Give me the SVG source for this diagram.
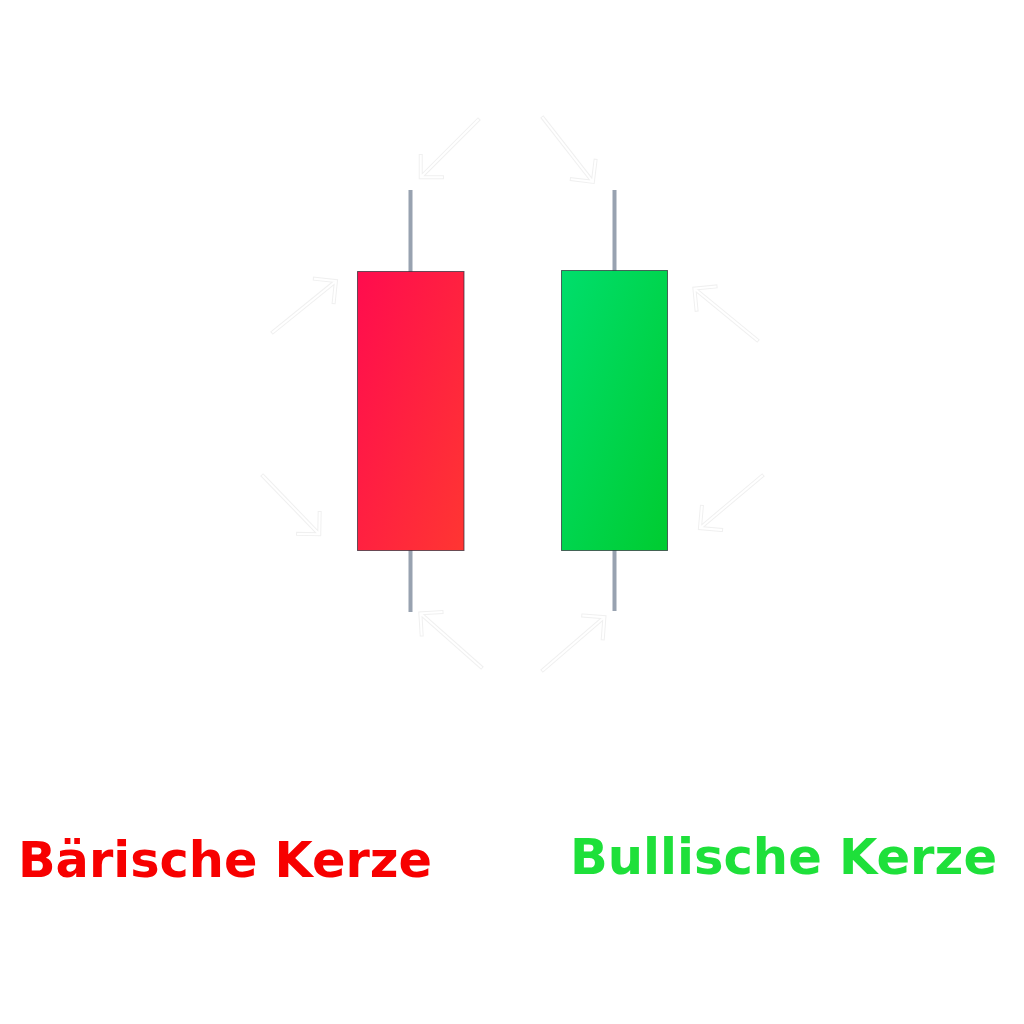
<svg xmlns="http://www.w3.org/2000/svg" xmlns:xlink="http://www.w3.org/1999/xlink" width="1024" height="1024" viewBox="0 0 1024 1024">
  <style>
    .wick { fill: #98a2b0; }
    .body { stroke: #2a2a35; stroke-width: 1; stroke-opacity: 0.7; }
    .arrO { fill: none; stroke: #f0f0f0; stroke-width: 4; stroke-linecap: square; }
    .arrI { fill: none; stroke: #ffffff; stroke-width: 2; stroke-linecap: square; }
    .lbl { font-family: "DejaVu Sans", "Liberation Sans", sans-serif; font-weight: bold; font-size: 50px; }
  </style>
  <defs>
    <linearGradient id="gRed" x1="0" y1="0" x2="1" y2="1">
      <stop offset="0" stop-color="#ff0c4e"/>
      <stop offset="1" stop-color="#ff3632"/>
    </linearGradient>
    <linearGradient id="gGreen" x1="0" y1="0" x2="1" y2="1">
      <stop offset="0" stop-color="#00de6c"/>
      <stop offset="1" stop-color="#00cc30"/>
    </linearGradient>
    <g id="arrow">
      <path class="arrO" d="M0,0 L80,0 M66,-15 L81,0 L66,15"/>
      <path class="arrI" d="M0,0 L80,0 M66,-15 L81,0 L66,15"/>
    </g>
  </defs>
  <rect width="1024" height="1024" fill="#ffffff"/>

  <g id="arrows">
    <use xlink:href="#arrow" transform="translate(478,120) rotate(135)"/>
    <use xlink:href="#arrow" transform="translate(543,118) rotate(52)"/>
    <use xlink:href="#arrow" transform="translate(273,332) rotate(-39)"/>
    <use xlink:href="#arrow" transform="translate(757,340) rotate(-140.6)"/>
    <use xlink:href="#arrow" transform="translate(263,476) rotate(46)"/>
    <use xlink:href="#arrow" transform="translate(762,476) rotate(140)"/>
    <use xlink:href="#arrow" transform="translate(481,667) rotate(-138.5)"/>
    <use xlink:href="#arrow" transform="translate(543,670) rotate(-40.7)"/>
  </g>

  <g id="bearish-candle">
    <rect class="wick" x="408.5" y="190" width="4" height="82"/>
    <rect class="wick" x="408.5" y="550" width="4" height="62"/>
    <rect class="body" x="357.5" y="271.5" width="106.5" height="279" fill="url(#gRed)"/>
  </g>

  <g id="bullish-candle">
    <rect class="wick" x="612.5" y="190" width="4" height="81"/>
    <rect class="wick" x="612.5" y="550" width="4" height="61"/>
    <rect class="body" x="561.5" y="270.5" width="106" height="280" fill="url(#gGreen)"/>
  </g>

  <g id="labels">
    <text class="lbl" x="18" y="877" fill="#f70000" textLength="414" lengthAdjust="spacingAndGlyphs">Bärische Kerze</text>
    <text class="lbl" x="570" y="873.5" fill="#1ee03a" textLength="427" lengthAdjust="spacingAndGlyphs">Bullische Kerze</text>
  </g>
</svg>
